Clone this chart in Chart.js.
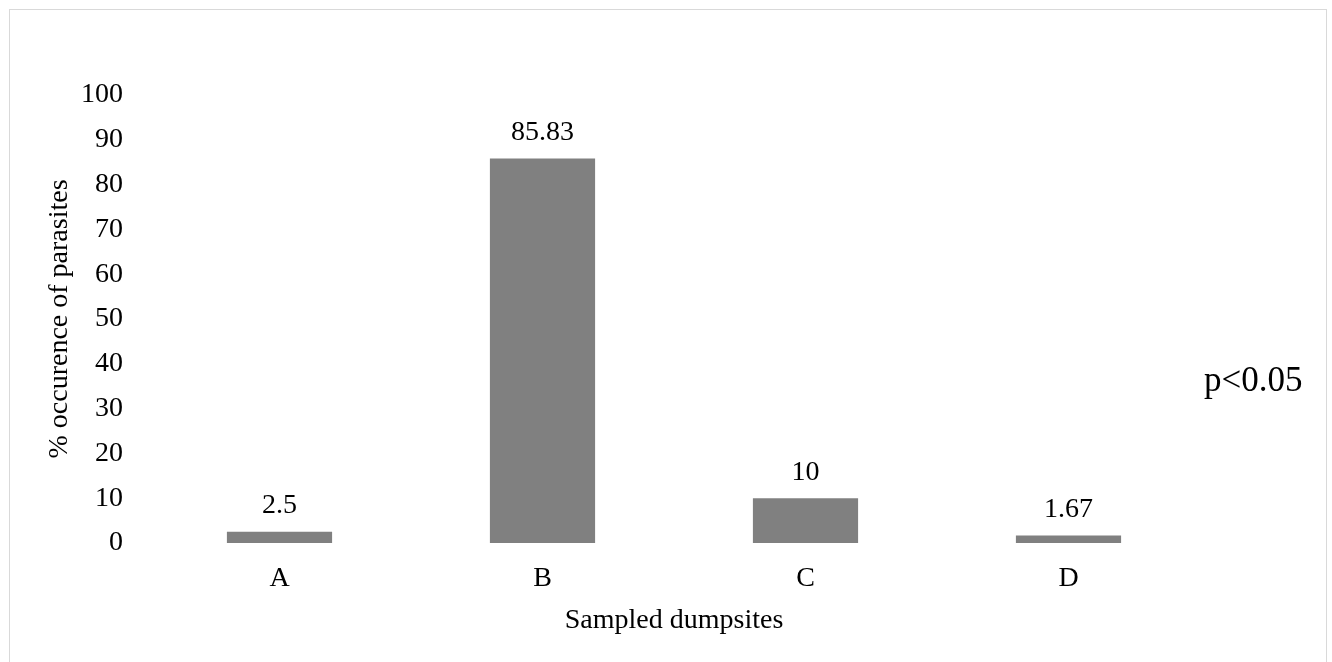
<!DOCTYPE html>
<html>
<head>
<meta charset="utf-8">
<script src="https://cdn.jsdelivr.net/npm/chart.js@4/dist/chart.umd.min.js"></script>
<style>
  body { margin: 0; background: #fff; overflow: hidden; }
  #frame { position: absolute; left: 9px; top: 9px; width: 1316px; height: 700px; border: 1px solid #d9d9d9; }
  #wrap { position: absolute; left: 0; top: 0; width: 1332px; height: 662px; }
</style>
</head>
<body>
<div id="frame"></div>
<div id="wrap"><canvas id="chart"></canvas></div>
<script>
var sites = ["A", "B", "C", "D"];
var occurrence = [2.5, 85.83, 10, 1.67];
var valueLabels = ["2.5", "85.83", "10", "1.67"];
var note = "p<0.05";

var font = "'Liberation Serif', 'Times New Roman', serif";

var labelPlugin = {
  id: "labels",
  afterDatasetsDraw: function (chart) {
    var ctx = chart.ctx;
    var meta = chart.getDatasetMeta(0);
    ctx.save();
    ctx.fillStyle = "#000";
    ctx.font = "28px " + font;
    ctx.textAlign = "center";
    ctx.textBaseline = "bottom";
    meta.data.forEach(function (bar, i) {
      ctx.fillText(valueLabels[i], bar.x, bar.y - 12);
    });
    // significance note to the right of the plot
    ctx.font = "35px " + font;
    ctx.textAlign = "left";
    ctx.textBaseline = "middle";
    ctx.fillText(note, chart.chartArea.right + 4, chart.scales.y.getPixelForValue(36));
    ctx.restore();
  },
};

new Chart("chart", {
  type: "bar",
  data: {
    labels: sites,
    datasets: [
      {
        data: occurrence,
        backgroundColor: "#808080",
        barPercentage: 0.4,
        categoryPercentage: 1.0,
      },
    ],
  },
  options: {
    responsive: true,
    maintainAspectRatio: false,
    animation: false,
    layout: { padding: { top: 95, right: 132, bottom: 21, left: 0 } },
    plugins: { legend: { display: false }, tooltip: { enabled: false } },
    scales: {
      y: {
        min: 0,
        max: 100,
        ticks: { stepSize: 10, color: "#000", padding: 17, font: { family: font, size: 28 } },
        grid: { display: false },
        border: { display: false },
        title: {
          display: true,
          text: "% occurence of parasites",
          color: "#000",
          font: { family: font, size: 28 },
          padding: { top: 43, bottom: 0 },
        },
        afterFit: function (scale) { scale.width = 148; },
      },
      x: {
        ticks: { color: "#000", padding: 11, font: { family: font, size: 28 } },
        grid: { display: false },
        border: { display: false },
        title: {
          display: true,
          text: "Sampled dumpsites",
          color: "#000",
          font: { family: font, size: 28 },
          padding: { top: 4, bottom: 4 },
        },
        afterFit: function (scale) { scale.height = 98; },
      },
    },
  },
  plugins: [labelPlugin],
});
</script>
</body>
</html>
